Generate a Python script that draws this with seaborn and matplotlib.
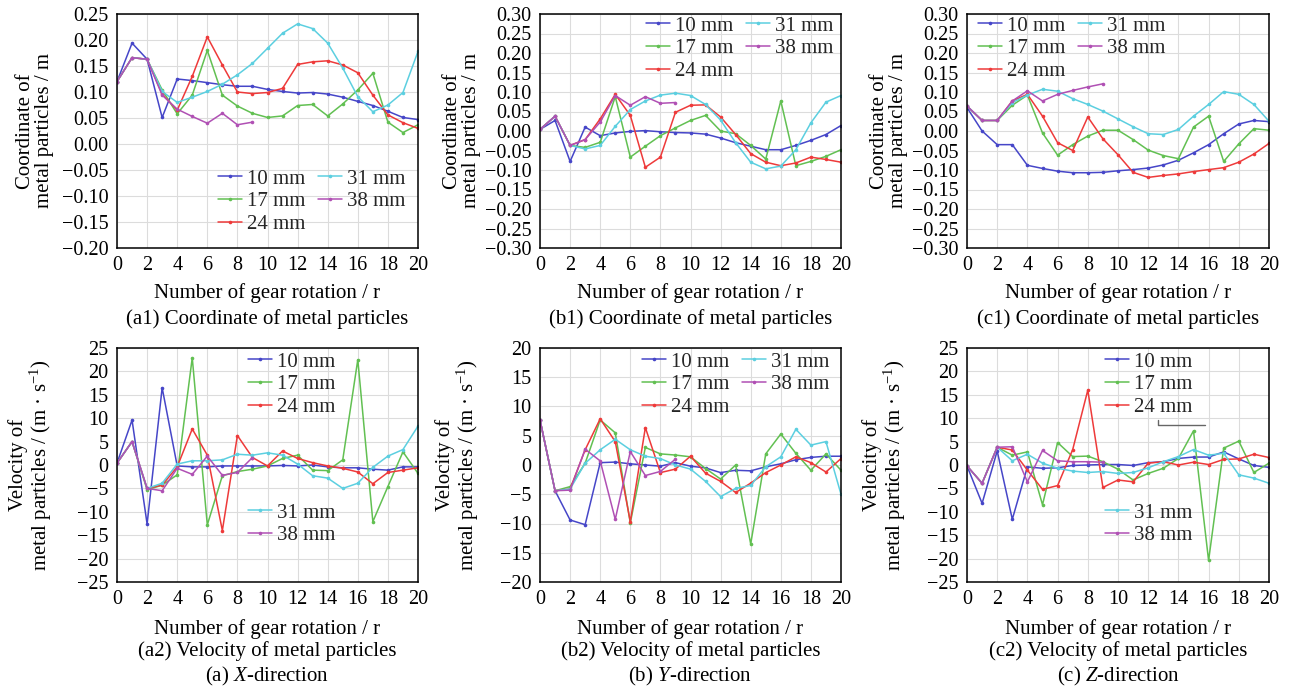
import numpy as np
import pandas as pd
import matplotlib
matplotlib.use("Agg")
import matplotlib.pyplot as plt
import seaborn as sns
from matplotlib.lines import Line2D
from matplotlib.ticker import FuncFormatter

# ---------------- data ----------------
rotations = list(range(21))
series_labels = ["10 mm", "17 mm", "24 mm", "31 mm", "38 mm"]
series_colors = ["#4646c8", "#62c052", "#ee3a3a", "#5ccfe0", "#b050b4"]

# (a1) X coordinate, m
xc_10 = [0.120, 0.194, 0.163, 0.051, 0.125, 0.122, 0.118, 0.114, 0.111, 0.111, 0.105,
         0.101, 0.098, 0.099, 0.096, 0.090, 0.082, 0.074, 0.063, 0.051, 0.047]
xc_17 = [0.120, 0.166, 0.163, 0.104, 0.058, 0.094, 0.180, 0.094, 0.073, 0.059, 0.051,
         0.054, 0.074, 0.076, 0.054, 0.077, 0.104, 0.136, 0.042, 0.022, 0.037]
xc_24 = [0.120, 0.166, 0.163, 0.096, 0.065, 0.130, 0.206, 0.152, 0.100, 0.097, 0.099,
         0.107, 0.153, 0.158, 0.160, 0.152, 0.137, 0.094, 0.056, 0.041, 0.030]
xc_31 = [0.120, 0.166, 0.163, 0.101, 0.080, 0.090, 0.101, 0.115, 0.133, 0.155, 0.184,
         0.213, 0.231, 0.222, 0.194, 0.146, 0.091, 0.062, 0.075, 0.099, 0.178]
xc_38 = [0.120, 0.166, 0.163, 0.094, 0.067, 0.053, 0.040, 0.059, 0.037, 0.042]

# (b1) Y coordinate, m
yc_10 = [0.004, 0.027, -0.078, 0.010, -0.012, -0.005, -0.001, 0.001, -0.002, -0.004, -0.005,
         -0.008, -0.018, -0.030, -0.039, -0.048, -0.048, -0.037, -0.024, -0.009, 0.014]
yc_17 = [0.004, 0.038, -0.037, -0.042, -0.029, 0.088, -0.067, -0.039, -0.012, 0.008, 0.027,
         0.040, 0.000, -0.007, -0.037, -0.072, 0.077, -0.089, -0.078, -0.065, -0.048]
yc_24 = [0.004, 0.038, -0.037, -0.022, 0.031, 0.094, 0.040, -0.093, -0.067, 0.048, 0.066,
         0.067, 0.036, -0.009, -0.058, -0.080, -0.089, -0.082, -0.067, -0.073, -0.080]
yc_31 = [0.004, 0.038, -0.037, -0.046, -0.037, 0.012, 0.055, 0.077, 0.092, 0.097, 0.091,
         0.068, 0.028, -0.030, -0.080, -0.097, -0.090, -0.048, 0.021, 0.074, 0.091]
yc_38 = [0.004, 0.038, -0.037, -0.022, 0.023, 0.091, 0.066, 0.088, 0.071, 0.073]

# (c1) Z coordinate, m
zc_10 = [0.060, 0.000, -0.035, -0.035, -0.088, -0.096, -0.103, -0.107, -0.107, -0.106, -0.102,
         -0.099, -0.095, -0.087, -0.075, -0.056, -0.035, -0.007, 0.018, 0.027, 0.024]
zc_17 = [0.064, 0.027, 0.027, 0.066, 0.092, -0.005, -0.062, -0.035, -0.013, 0.002, 0.002,
         -0.022, -0.049, -0.063, -0.071, 0.010, 0.038, -0.078, -0.033, 0.006, 0.002]
zc_24 = [0.064, 0.027, 0.027, 0.077, 0.094, 0.038, -0.030, -0.050, 0.036, -0.020, -0.061,
         -0.106, -0.119, -0.114, -0.110, -0.104, -0.099, -0.094, -0.080, -0.059, -0.032]
zc_31 = [0.064, 0.027, 0.027, 0.073, 0.092, 0.107, 0.102, 0.083, 0.068, 0.051, 0.031,
         0.011, -0.007, -0.009, 0.004, 0.038, 0.068, 0.101, 0.094, 0.068, 0.025]
zc_38 = [0.064, 0.027, 0.027, 0.077, 0.103, 0.077, 0.094, 0.104, 0.113, 0.121]

# (a2) X velocity, m/s
xv_10 = [0.4, 9.6, -12.6, 16.5, -0.2, -0.4, -0.4, -0.2, -0.2, -0.2, -0.2,
         -0.1, -0.2, 0.0, -0.4, -0.6, -0.6, -0.9, -1.1, -0.4, -0.4]
xv_17 = [0.4, 5.0, -5.3, -4.3, -2.1, 22.9, -12.8, -2.3, -1.4, -0.9, -0.2,
         1.4, 2.1, -1.1, -1.2, 1.1, 22.5, -12.1, -4.6, 2.8, -1.8]
xv_24 = [0.4, 5.0, -5.0, -4.3, -0.4, 7.7, 2.1, -14.0, 6.3, 1.6, -0.2,
         3.0, 1.4, 0.5, -0.2, -0.7, -1.5, -4.0, -1.6, -1.1, -0.6]
xv_31 = [0.4, 5.0, -5.0, -3.9, 0.2, 0.9, 0.9, 1.1, 2.3, 2.1, 2.6,
         2.1, 0.2, -2.3, -2.8, -5.0, -3.9, -0.5, 1.9, 3.3, 8.3]
xv_38 = [0.4, 5.0, -5.0, -5.5, -0.7, -2.0, 1.9, -2.2, -1.6, 1.6]

# (b2) Y velocity, m/s
yv_10 = [7.7, -4.4, -9.4, -10.2, 0.4, 0.5, 0.2, 0.0, -0.2, 0.4, -0.2,
         -0.5, -1.3, -0.9, -1.0, -0.3, 0.2, 0.9, 1.3, 1.5, 1.5]
yv_17 = [7.7, -4.4, -3.7, 0.3, 7.7, 5.5, -9.9, 3.0, 1.9, 1.7, 1.4,
         -0.6, -2.4, 0.0, -13.5, 1.9, 5.3, 2.0, -0.9, 1.9, -0.9]
yv_24 = [7.7, -4.4, -4.1, 2.6, 7.9, 4.0, -9.7, 6.4, -1.3, -0.7, 1.5,
         -1.4, -2.8, -4.7, -3.1, -1.3, 0.0, 1.4, 0.4, -1.2, 1.1]
yv_31 = [7.7, -4.4, -4.1, 0.3, 2.6, 4.4, 2.6, 1.5, 1.1, 0.0, -0.7,
         -2.8, -5.4, -4.0, -3.5, -0.3, 1.4, 6.1, 3.4, 4.0, -5.0]
yv_38 = [7.7, -4.4, -4.3, 2.7, 0.7, -9.3, 2.3, -1.8, -1.1, 1.0]

# (c2) Z velocity, m/s
zv_10 = [-0.2, -8.2, 3.0, -11.6, -0.4, -0.7, -0.6, -0.1, 0.0, 0.1, 0.1,
         -0.1, 0.5, 0.7, 1.4, 1.7, 1.7, 2.8, 1.3, -0.1, -0.5]
zv_17 = [-0.2, -3.9, 3.8, 2.1, 2.8, -8.5, 4.8, 1.8, 1.9, 0.7, -0.9,
         -3.2, -1.8, -0.7, 1.4, 7.3, -20.4, 3.6, 5.1, -1.6, 0.4]
zv_24 = [-0.2, -3.9, 3.8, 3.2, -1.1, -5.2, -4.4, 3.3, 16.0, -4.8, -3.2,
         -3.6, 0.4, 0.7, 0.0, 0.6, 0.1, 1.2, 1.3, 2.3, 1.6]
zv_31 = [-0.2, -3.9, 3.8, 0.9, 2.3, 0.4, -0.7, -1.3, -1.6, -1.4, -1.8,
         -1.6, -0.6, 0.7, 1.8, 3.3, 2.1, 2.5, -2.1, -2.8, -3.9]
zv_38 = [-0.2, -3.9, 3.8, 3.9, -3.6, 3.1, 0.9, 0.7, 0.7, 0.6]

x_ticks = list(range(0, 21, 2))
coord_ticks_x = [0.25, 0.20, 0.15, 0.10, 0.05, 0.00, -0.05, -0.10, -0.15, -0.20]
coord_ticks_yz = [0.30, 0.25, 0.20, 0.15, 0.10, 0.05, 0.00, -0.05, -0.10, -0.15, -0.20, -0.25, -0.30]
vel_ticks_xz = [25, 20, 15, 10, 5, 0, -5, -10, -15, -20, -25]
vel_ticks_y = [20, 15, 10, 5, 0, -5, -10, -15, -20]

xlabel_text = "Number of gear rotation / r"
coord_ylabel = "Coordinate of\nmetal particles / m"
vel_ylabel = "Velocity of\nmetal particles / (m · s$^{-1}$)"
captions_top = ["(a1) Coordinate of metal particles",
                "(b1) Coordinate of metal particles",
                "(c1) Coordinate of metal particles"]
captions_mid = ["(a2) Velocity of metal particles",
                "(b2) Velocity of metal particles",
                "(c2) Velocity of metal particles"]
captions_bot = ["(a) $\\mathit{X}$-direction", "(b) $\\mathit{Y}$-direction",
                "(c) $\\mathit{Z}$-direction"]

# ---------------- style ----------------
sns.set_theme(style="white")
plt.rcParams["font.family"] = ["Liberation Serif", "DejaVu Serif"]
plt.rcParams["mathtext.fontset"] = "custom"
plt.rcParams["mathtext.rm"] = "Liberation Serif"
plt.rcParams["mathtext.it"] = "Liberation Serif:italic"
plt.rcParams["mathtext.default"] = "regular"
plt.rcParams["axes.unicode_minus"] = True

W, H = 1291, 688
fig = plt.figure(figsize=(W / 100, H / 100), dpi=100)
fig.patch.set_facecolor("white")


def px_axes(l, t, r, b):
    return fig.add_axes([l / W, 1 - b / H, (r - l) / W, (b - t) / H])


def coord_fmt(v, pos):
    v = round(v, 2) + 0.0
    s = f"{v:.2f}"
    return s.replace("-", "\u2212")


def vel_fmt(v, pos):
    v = int(round(v))
    return f"{v}".replace("-", "\u2212")


def make_df(series):
    frames = []
    for lab, vals in zip(series_labels, series):
        frames.append(pd.DataFrame({"rotation": rotations[:len(vals)],
                                    "value": vals, "series": lab}))
    return pd.concat(frames, ignore_index=True)


def draw_panel(ax, series, ylim, yticks, fmt):
    df = make_df(series)
    sns.lineplot(data=df, x="rotation", y="value", hue="series",
                 hue_order=series_labels, palette=series_colors,
                 marker="o", markersize=2.6, markeredgewidth=0,
                 linewidth=1.1, estimator=None, sort=False,
                 legend=False, ax=ax)
    ax.set_xlim(0, 20)
    ax.set_ylim(*ylim)
    ax.set_xticks(x_ticks)
    ax.set_yticks(yticks)
    ax.yaxis.set_major_formatter(FuncFormatter(fmt))
    ax.grid(True, color="#dcdcdc", linewidth=0.8)
    ax.set_axisbelow(True)
    for sp in ax.spines.values():
        sp.set_color("black")
        sp.set_linewidth(1.1)
    ax.tick_params(axis="both", direction="in", length=4, width=0.9,
                   labelsize=14.5, colors="black", top=False, right=False)
    ax.tick_params(axis="y", pad=6)
    ax.tick_params(axis="x", pad=6)
    ax.set_xlabel(xlabel_text, fontsize=15, color="black")
    ax.set_ylabel("", fontsize=15)
    return ax.get_lines()[:5]


def add_legend(ax, handles, labels, anchor, ncol):
    leg = ax.legend(handles, labels, loc="upper left",
                    bbox_to_anchor=(anchor[0] / W, 1 - anchor[1] / H),
                    bbox_transform=fig.transFigure, ncol=ncol, frameon=False,
                    fontsize=15, handlelength=1.15, handletextpad=0.25,
                    columnspacing=0.6, labelspacing=0.15, borderpad=0,
                    borderaxespad=0)
    return leg


cols = [(117, 418), (540, 841), (967, 1269)]
top_row = (14, 248)
bot_row = (348, 582)

panels_top = [(xc_10, xc_17, xc_24, xc_31, xc_38), (yc_10, yc_17, yc_24, yc_31, yc_38),
              (zc_10, zc_17, zc_24, zc_31, zc_38)]
panels_bot = [(xv_10, xv_17, xv_24, xv_31, xv_38), (yv_10, yv_17, yv_24, yv_31, yv_38),
              (zv_10, zv_17, zv_24, zv_31, zv_38)]
top_lims = [(-0.20, 0.25), (-0.30, 0.30), (-0.30, 0.30)]
top_ticks = [coord_ticks_x, coord_ticks_yz, coord_ticks_yz]
bot_lims = [(-25, 25), (-20, 20), (-25, 25)]
bot_ticks = [vel_ticks_xz, vel_ticks_y, vel_ticks_xz]

ylabel_right_px = [54, 481, 908]

for i, (l, r) in enumerate(cols):
    # top row
    ax = px_axes(l, top_row[0], r, top_row[1])
    hs = draw_panel(ax, panels_top[i], top_lims[i], top_ticks[i], coord_fmt)
    ax.set_ylabel(coord_ylabel, fontsize=15, linespacing=1.0, color="black")
    ax.yaxis.set_label_coords((ylabel_right_px[i] - l) / (r - l), 0.5)
    ax.xaxis.set_label_coords(0.5, -0.15)
    if i == 0:
        add_legend(ax, hs, series_labels, (218, 169), 2)
    elif i == 1:
        add_legend(ax, hs, series_labels, (646, 16), 2)
    else:
        add_legend(ax, hs, series_labels, (978, 16), 2)
    fig.text((l + r) / 2 / W, 1 - 319 / H, captions_top[i], ha="center", va="center",
             fontsize=15, color="black")

    # bottom row
    ax = px_axes(l, bot_row[0], r, bot_row[1])
    hs = draw_panel(ax, panels_bot[i], bot_lims[i], bot_ticks[i], vel_fmt)
    ax.set_ylabel(vel_ylabel, fontsize=15, linespacing=1.0, color="black")
    ax.yaxis.set_label_coords((ylabel_right_px[i] - l) / (r - l), 0.5)
    ax.xaxis.set_label_coords(0.5, -0.16)
    if i == 1:
        add_legend(ax, hs, series_labels, (642, 352), 2)
    else:
        x0 = 248 if i == 0 else 1105
        leg1 = add_legend(ax, hs[:3], series_labels[:3], (x0, 352), 1)
        ax.add_artist(leg1)
        add_legend(ax, hs[3:], series_labels[3:], (x0, 503), 1)
    fig.text((l + r) / 2 / W, 1 - 651 / H, captions_mid[i], ha="center", va="center",
             fontsize=15, color="black")
    fig.text((l + r) / 2 / W, 1 - 676 / H, captions_bot[i], ha="center", va="center",
             fontsize=15, color="black")

# small stray gray bracket visible in panel (c2)
fig.add_artist(Line2D([1158 / W, 1158 / W, 1205 / W],
                      [1 - 420 / H, 1 - 425 / H, 1 - 425 / H],
                      color="#666666", linewidth=1.0))

fig.savefig("out.png", dpi=100, facecolor="white")
